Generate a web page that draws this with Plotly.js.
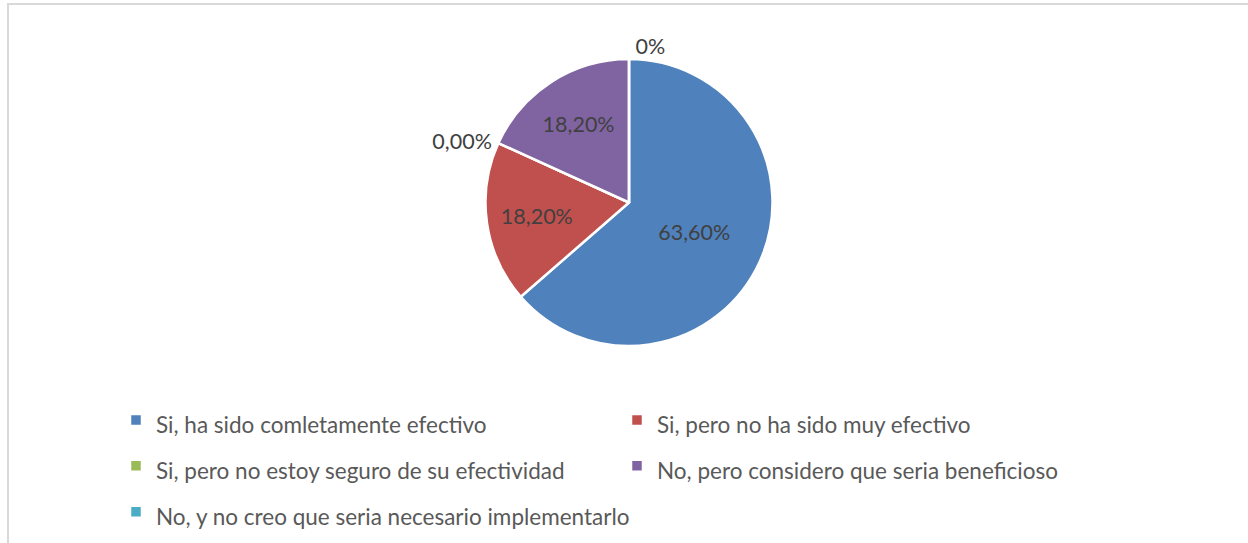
<!DOCTYPE html>
<html>
<head>
<meta charset="utf-8">
<script src="https://cdn.plot.ly/plotly-3.0.1.min.js"></script>
<style>
  html, body { margin: 0; padding: 0; background: #ffffff; }
  #wrap { position: relative; width: 1248px; height: 543px; overflow: hidden; }
  #chart { position: absolute; left: 0; top: 0; width: 1248px; height: 543px; }
  #frame { position: absolute; left: 7px; top: 3px; width: 1260px; height: 560px;
           border-left: 2px solid #d9d9d9; border-top: 2px solid #d9d9d9; pointer-events: none; }
</style>
</head>
<body>
<div id="wrap">
  <div id="chart"></div>
  <div id="frame"></div>
</div>
<script>
// ---- data ----
const categories = [
  "Si, ha sido comletamente efectivo",
  "Si, pero no ha sido muy efectivo",
  "Si, pero no estoy seguro de su efectividad",
  "No, pero considero que seria beneficioso",
  "No, y no creo que seria necesario implementarlo"
];
const values = [63.6, 18.2, 0, 18.2, 0];
const valueLabels = ["63,60%", "18,20%", "0,00%", "18,20%", "0%"];
const sliceColors = ["#4F81BD", "#C0504D", "#9BBB59", "#8064A2", "#4BACC6"];

const W = 1248, H = 543;
const cx = 629, cy = 202.5, r = 143.5;
const FONT = "Lato, 'Liberation Sans', sans-serif";
const legendTextSize = 22.5;

const trace = {
  type: "pie",
  labels: categories.map(c => "<span style='font-size:" + legendTextSize + "px'>" + c + "</span>"),
  values: values,
  text: valueLabels,
  textinfo: "text",
  hoverinfo: "text",
  sort: false,
  direction: "clockwise",
  rotation: 0,
  textposition: values.map(v => v === 0 ? "outside" : "inside"),
  insidetextorientation: "horizontal",
  textfont: { family: FONT, size: 21.5, color: "#404040" },
  outsidetextfont: { family: FONT, size: 21.5, color: "#404040" },
  insidetextfont: { family: FONT, size: 21.5, color: "#404040" },
  marker: { colors: sliceColors, line: { color: "#ffffff", width: 2.5 } },
  domain: {
    x: [(cx - r) / W, (cx + r) / W],
    y: [1 - (cy + r) / H, 1 - (cy - r) / H]
  },
  showlegend: true
};

const layout = {
  width: W, height: H,
  margin: { l: 0, r: 0, t: 0, b: 0 },
  paper_bgcolor: "#ffffff",
  font: { family: FONT, color: "#595959" },
  showlegend: true,
  legend: {
    orientation: "h",
    x: 116 / W, xanchor: "left",
    y: 1 - 392 / H, yanchor: "top",
    entrywidth: 456, entrywidthmode: "pixels",
    valign: "middle",
    font: { size: 33, color: "#595959" },
    traceorder: "normal"
  }
};

Plotly.newPlot("chart", [trace], layout, { displayModeBar: false, staticPlot: true });
</script>
</body>
</html>
